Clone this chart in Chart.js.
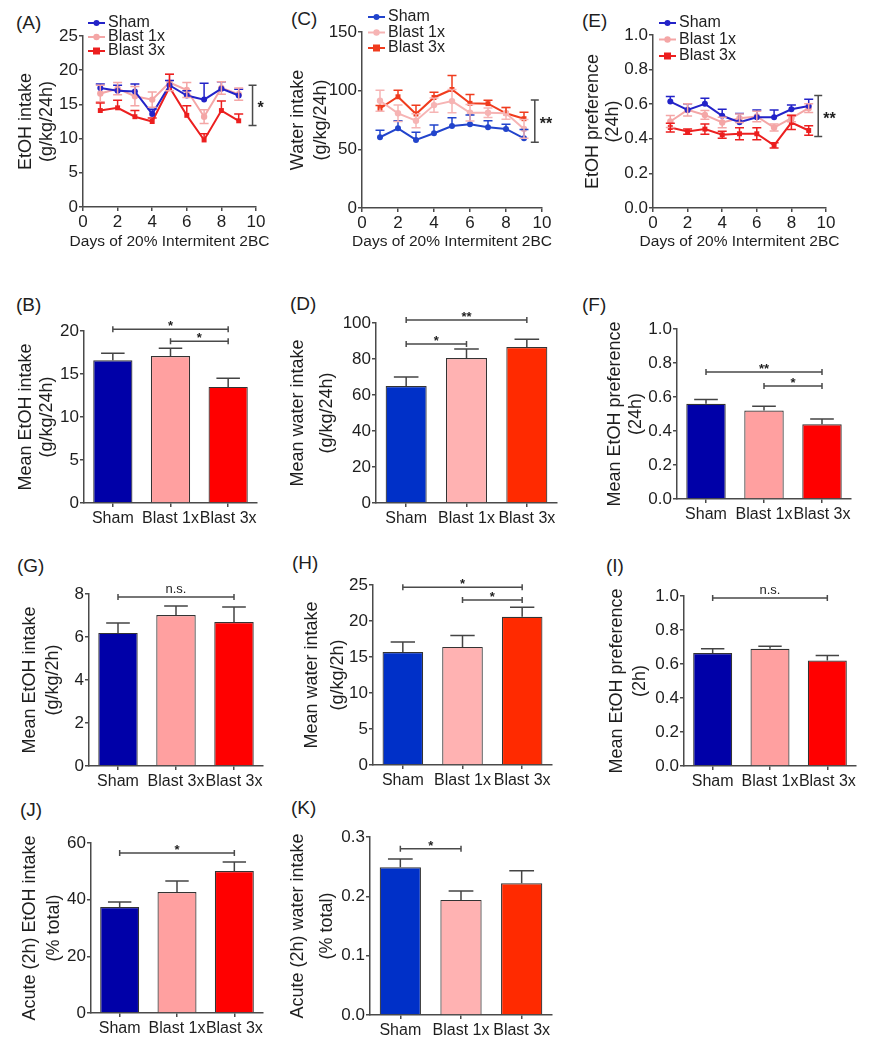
<!DOCTYPE html>
<html>
<head>
<meta charset="utf-8">
<script src="https://cdn.jsdelivr.net/npm/chart.js@4.4.1/dist/chart.umd.min.js"></script>
<style>
  body { margin: 0; background: #fff; }
  #fig { position: relative; width: 870px; height: 1050px; overflow: hidden; font-family: 'Liberation Sans', Arial, sans-serif; }
  #fig canvas { position: absolute; }
  .tag { position: absolute; font-size: 19px; line-height: 1; color: #1e1e1e; }
</style>
</head>
<body>
<div id="fig">
  <div class="tag" style="left:16px;top:13px">(A)</div>
  <div class="tag" style="left:291px;top:9px">(C)</div>
  <div class="tag" style="left:582px;top:11px">(E)</div>
  <div class="tag" style="left:16px;top:295px">(B)</div>
  <div class="tag" style="left:290px;top:294px">(D)</div>
  <div class="tag" style="left:582px;top:295px">(F)</div>
  <div class="tag" style="left:17px;top:556px">(G)</div>
  <div class="tag" style="left:292px;top:553px">(H)</div>
  <div class="tag" style="left:606px;top:556px">(I)</div>
  <div class="tag" style="left:20px;top:800px">(J)</div>
  <div class="tag" style="left:291px;top:798px">(K)</div>
</div>
<script>
const FONT = "'Liberation Sans', Arial, sans-serif";
const AXIS = '#4a4a4a';
const INK = '#1e1e1e';

// daily values, days 1-9 of intermittent 2BC (A, C, E)
const days = [1, 2, 3, 4, 5, 6, 7, 8, 9];
const groups = ['Sham', 'Blast 1x', 'Blast 3x'];

const etohSham = [17.4, 17.0, 16.9, 13.6, 17.8, 16.3, 15.7, 17.3, 16.3];
const etohShamErr = [0.6, 0.8, 1.1, 0.7, 0.7, 0.7, 2.4, 1.0, 0.9];
const etohB1 = [16.6, 17.3, 16.2, 15.7, 18.2, 17.1, 13.2, 17.4, 16.5];
const etohB1Err = [1.2, 0.9, 1.4, 1.1, 1.2, 1.1, 1.0, 0.9, 0.9];
const etohB3 = [14.1, 14.5, 13.2, 12.5, 17.5, 13.4, 9.8, 14.1, 12.6];
const etohB3Err = [1.1, 1.1, 0.9, 0.5, 1.9, 1.4, 0.9, 1.4, 1.0];

const waterSham = [60.3, 67.9, 58.0, 63.7, 69.9, 71.3, 68.8, 67.4, 59.4];
const waterShamErr = [6, 6.5, 6.5, 7, 7, 8, 5.5, 4, 7.5];
const waterB1 = [91.4, 80.7, 74.4, 87.7, 91.1, 81.2, 81.2, 80.7, 67.4];
const waterB1Err = [9, 7, 6, 6, 10, 7, 4, 5, 8];
const waterB3 = [84.9, 94.8, 80.1, 94.2, 101, 89.2, 88.9, 80.7, 76.1];
const waterB3Err = [2.5, 5.5, 7.5, 4.5, 12, 7.5, 3, 5, 5.5];

const prefSham = [0.615, 0.567, 0.602, 0.533, 0.496, 0.525, 0.525, 0.571, 0.59];
const prefShamErr = [0.03, 0.035, 0.033, 0.038, 0.05, 0.042, 0.042, 0.025, 0.039];
const prefB1 = [0.50, 0.567, 0.538, 0.494, 0.519, 0.529, 0.465, 0.519, 0.577];
const prefB1Err = [0.035, 0.035, 0.025, 0.03, 0.025, 0.03, 0.02, 0.02, 0.025];
const prefB3 = [0.465, 0.442, 0.456, 0.423, 0.429, 0.429, 0.362, 0.494, 0.448];
const prefB3Err = [0.025, 0.015, 0.03, 0.02, 0.035, 0.035, 0.015, 0.04, 0.028];

// group means and SEM (B, D, F, G, H, I, J, K)
const meanEtoh24 = [16.6, 17.1, 13.5], meanEtoh24Err = [0.8, 0.9, 1.0];
const meanWater24 = [65, 80.5, 86.7], meanWater24Err = [5, 5, 4.3];
const meanPref24 = [0.56, 0.52, 0.44], meanPref24Err = [0.025, 0.025, 0.03];
const meanEtoh2 = [6.19, 7.02, 6.7], meanEtoh2Err = [0.46, 0.42, 0.7];
const meanWater2 = [15.7, 16.4, 20.6], meanWater2Err = [1.4, 1.6, 1.3];
const meanPref2 = [0.665, 0.69, 0.62], meanPref2Err = [0.025, 0.015, 0.03];
const acuteEtoh = [37.4, 42.7, 50.1], acuteEtohErr = [1.8, 3.9, 3.2];
const acuteWater = [0.249, 0.194, 0.222], acuteWaterErr = [0.014, 0.015, 0.021];
const labelsG = ['Sham', 'Blast 3x', 'Blast 3x'];   // printed this way in panel G

const darkSet = ['#0000a8', '#ffa0a0', '#ff0000'];
const brightSet = ['#0030c8', '#ffb2b2', '#ff2a00'];

function marker(ctx, style, x, y, r) {
    ctx.beginPath();
    if (style === 'rect') ctx.rect(x - r, y - r, 2 * r, 2 * r);
    else ctx.arc(x, y, r, 0, Math.PI * 2);
    ctx.fill();
}

const decor = {
    id: 'decor',
    afterDatasetsDraw(chart, args, o) {
        if (!o.err) return;
        const ctx = chart.ctx, ys = chart.scales.y;
        ctx.save();
        chart.data.datasets.forEach((ds, di) => {
            const errs = o.err[di];
            if (!errs) return;
            const both = o.both && o.both[di];
            ctx.strokeStyle = o.errColor || ds.borderColor;
            ctx.lineWidth = 1.5;
            chart.getDatasetMeta(di).data.forEach((el, i) => {
                const d = ds.data[i];
                const v = typeof d === 'object' ? d.y : d;
                const cw = el.width ? el.width * 0.6 : 9;
                const hi = ys.getPixelForValue(v + errs[i]);
                const lo = ys.getPixelForValue(both ? v - errs[i] : v);
                ctx.beginPath();
                ctx.moveTo(el.x, lo); ctx.lineTo(el.x, hi);
                ctx.moveTo(el.x - cw / 2, hi); ctx.lineTo(el.x + cw / 2, hi);
                if (both) { ctx.moveTo(el.x - cw / 2, lo); ctx.lineTo(el.x + cw / 2, lo); }
                ctx.stroke();
            });
        });
        ctx.restore();
    },
    afterDraw(chart, args, o) {
        if (!o.yTitle) return;
        const ctx = chart.ctx, ca = chart.chartArea, xs = chart.scales.x, ys = chart.scales.y;
        ctx.save();
        ctx.fillStyle = INK;
        ctx.strokeStyle = AXIS;
        ctx.lineWidth = 1.5;
        ctx.textAlign = 'center';
        ctx.textBaseline = 'middle';
        ctx.font = `18px ${FONT}`;
        const cy = (ca.top + ca.bottom) / 2;
        o.yTitle.forEach((t, i) => {
            ctx.save();
            ctx.translate(o.yTitleX[i], cy);
            ctx.rotate(-Math.PI / 2);
            ctx.fillText(t, 0, 0);
            ctx.restore();
        });
        if (o.xTitle) {
            ctx.font = `15.5px ${FONT}`;
            ctx.fillText(o.xTitle, (ca.left + ca.right) / 2, o.xTitleY);
        }
        ctx.textBaseline = 'alphabetic';
        (o.sig || []).forEach(s => {
            const x1 = xs.getPixelForValue(s.from), x2 = xs.getPixelForValue(s.to);
            const y = ys.getPixelForValue(s.level);
            ctx.beginPath();
            ctx.moveTo(x1, y); ctx.lineTo(x2, y);
            ctx.moveTo(x1, y - 3); ctx.lineTo(x1, y + 3);
            ctx.moveTo(x2, y - 3); ctx.lineTo(x2, y + 3);
            ctx.stroke();
            const star = s.text.includes('*');
            ctx.font = star ? `bold 13px ${FONT}` : `13px ${FONT}`;
            ctx.fillText(s.text, (x1 + x2) / 2, star ? y + 1 : y - 4);
        });
        if (o.bracket) {
            const b = o.bracket;
            const x = xs.getPixelForValue(b.x);
            const y1 = ys.getPixelForValue(b.from), y2 = ys.getPixelForValue(b.to);
            ctx.beginPath();
            ctx.moveTo(x, y1); ctx.lineTo(x, y2);
            ctx.moveTo(x - 4, y1); ctx.lineTo(x + 4, y1);
            ctx.moveTo(x - 4, y2); ctx.lineTo(x + 4, y2);
            ctx.stroke();
            ctx.font = `bold 16px ${FONT}`;
            ctx.textAlign = 'left';
            ctx.fillText(b.text, x + 5, (y1 + y2) / 2 + 8);
        }
        if (o.legend) {
            const L = o.legend;
            chart.data.datasets.forEach((ds, i) => {
                const x = ca.left + L.x, y = ca.top + L.y + i * L.gap;
                ctx.strokeStyle = ds.borderColor;
                ctx.lineWidth = 2;
                ctx.beginPath(); ctx.moveTo(x, y); ctx.lineTo(x + 17, y); ctx.stroke();
                ctx.fillStyle = ds.borderColor;
                marker(ctx, ds.pointStyle, x + 8.5, y, ds.pointRadius);
                ctx.fillStyle = INK;
                ctx.font = `16px ${FONT}`;
                ctx.textAlign = 'left';
                ctx.textBaseline = 'middle';
                ctx.fillText(ds.label, x + 20, y);
            });
        }
        ctx.restore();
    }
};
Chart.register(decor);

const fig = document.getElementById('fig');

function place(box) {
    const c = document.createElement('canvas');
    c.width = box.r - box.l;
    c.height = box.b - box.t;
    c.style.left = box.l + 'px';
    c.style.top = box.t + 'px';
    fig.appendChild(c);
    return c;
}

function axis(fit, range, tickExtra, gridExtra) {
    return Object.assign({
        afterFit: fit,
        grid: Object.assign({ drawOnChartArea: false, tickLength: 4, color: AXIS, lineWidth: 1.5 }, gridExtra),
        border: { color: AXIS, width: 1.5 },
        ticks: Object.assign({ color: INK, font: { family: FONT, size: 17 }, padding: 1, maxRotation: 0, autoSkip: false }, tickExtra)
    }, range);
}

const oneDecimal = v => v.toFixed(1);

function lineChart(p) {
    const { box, plot } = p;
    const styles = [['circle', 3], ['circle', 3.2], ['rect', 3.5]];
    new Chart(place(box), {
        type: 'line',
        data: {
            datasets: p.series.map((s, i) => ({
                label: groups[i],
                data: days.map((d, k) => ({ x: d, y: s[k] })),
                borderColor: p.colors[i],
                backgroundColor: p.colors[i],
                borderWidth: 2,
                pointStyle: styles[i][0],
                pointRadius: styles[i][1],
                pointBorderWidth: 0,
                tension: 0
            }))
        },
        options: {
            responsive: false, animation: false, events: [],
            layout: { padding: { left: 0, bottom: 0, top: plot.t - box.t, right: box.r - plot.r } },
            scales: {
                x: axis(s => { s.height = box.b - plot.b; }, { type: 'linear', min: 0, max: 10 }, { stepSize: 2 }),
                y: axis(s => { s.width = plot.l - box.l; }, { min: 0, max: p.max }, Object.assign({ stepSize: p.step }, p.fmt ? { callback: p.fmt } : {}))
            },
            plugins: {
                legend: { display: false }, tooltip: { enabled: false },
                decor: {
                    err: p.errors, both: [false, true, p.redBoth],
                    yTitle: p.yTitle, yTitleX: p.yTitleX.map(v => v - box.l),
                    xTitle: 'Days of 20% Intermitent 2BC', xTitleY: 242 - box.t,
                    bracket: p.bracket, legend: p.legend
                }
            }
        }
    });
}

function barChart(p) {
    const { box, plot } = p;
    new Chart(place(box), {
        type: 'bar',
        data: {
            labels: p.labels || groups,
            datasets: [{
                data: p.values, backgroundColor: p.colors,
                borderColor: '#333', borderWidth: 1.2,
                barPercentage: 0.68, categoryPercentage: 1
            }]
        },
        options: {
            responsive: false, animation: false, events: [],
            layout: { padding: { left: 0, bottom: 0, top: plot.t - box.t, right: box.r - plot.r } },
            scales: {
                x: axis(s => { s.height = box.b - plot.b; }, { type: 'category' }, { font: { family: FONT, size: 16 }, padding: 2 }, { offset: false }),
                y: axis(s => { s.width = plot.l - box.l; }, { min: 0, max: p.max }, Object.assign({ stepSize: p.step }, p.fmt ? { callback: p.fmt } : {}))
            },
            plugins: {
                legend: { display: false }, tooltip: { enabled: false },
                decor: {
                    err: [p.errors], errColor: '#444',
                    yTitle: p.yTitle, yTitleX: p.yTitleX.map(v => v - box.l),
                    sig: p.sig
                }
            }
        }
    });
}

// (A)
lineChart({
    box: { l: 10, t: 0, r: 285, b: 255 }, plot: { l: 83, t: 36, r: 256, b: 207 },
    series: [etohSham, etohB1, etohB3], errors: [etohShamErr, etohB1Err, etohB3Err], redBoth: false,
    colors: ['#2323c8', '#f4a6a6', '#ec1f1f'], max: 25, step: 5,
    yTitle: ['EtOH intake', '(g/kg/24h)'], yTitleX: [26, 47],
    bracket: { x: 9.8, from: 11.9, to: 17.8, text: '*' },
    legend: { x: 5, y: -13, gap: 14 }
});
// (C)
lineChart({
    box: { l: 285, t: 0, r: 578, b: 255 }, plot: { l: 362, t: 32, r: 542, b: 208 },
    series: [waterSham, waterB1, waterB3], errors: [waterShamErr, waterB1Err, waterB3Err], redBoth: false,
    colors: ['#2244cc', '#f6b4b4', '#f03c1e'], max: 150, step: 50,
    yTitle: ['Water intake', '(g/kg/24h)'], yTitleX: [298, 321],
    bracket: { x: 9.6, from: 56, to: 92, text: '**' },
    legend: { x: 6, y: -15, gap: 15.5 }
});
// (E)
lineChart({
    box: { l: 578, t: 0, r: 870, b: 255 }, plot: { l: 653, t: 35, r: 826, b: 208 },
    series: [prefSham, prefB1, prefB3], errors: [prefShamErr, prefB1Err, prefB3Err], redBoth: true,
    colors: ['#2323c8', '#f4a6a6', '#ec1f1f'], max: 1, step: 0.2, fmt: oneDecimal,
    yTitle: ['EtOH preference', '(24h)'], yTitleX: [593, 613],
    bracket: { x: 9.55, from: 0.413, to: 0.65, text: '**' },
    legend: { x: 6, y: -12, gap: 16.5 }
});

// (B)
barChart({
    box: { l: 10, t: 300, r: 282, b: 535 }, plot: { l: 84, t: 331, r: 257, b: 503 },
    values: meanEtoh24, errors: meanEtoh24Err, colors: darkSet, max: 20, step: 5,
    yTitle: ['Mean EtOH intake', '(g/kg/24h)'], yTitleX: [26, 47],
    sig: [{ from: 0, to: 2, level: 20.2, text: '*' }, { from: 1, to: 2, level: 18.8, text: '*' }]
});
// (D)
barChart({
    box: { l: 282, t: 300, r: 575, b: 535 }, plot: { l: 376, t: 323, r: 557, b: 503 },
    values: meanWater24, errors: meanWater24Err, colors: brightSet, max: 100, step: 20,
    yTitle: ['Mean water intake', '(g/kg/24h)'], yTitleX: [298, 327],
    sig: [{ from: 0, to: 2, level: 101.7, text: '**' }, { from: 0, to: 1, level: 88.3, text: '*' }]
});
// (F)
barChart({
    box: { l: 575, t: 300, r: 870, b: 535 }, plot: { l: 677, t: 329, r: 851, b: 499 },
    values: meanPref24, errors: meanPref24Err, colors: darkSet, max: 1, step: 0.2, fmt: oneDecimal,
    yTitle: ['Mean EtOH preference', '(24h)'], yTitleX: [615, 636],
    sig: [{ from: 0, to: 2, level: 0.747, text: '**' }, { from: 1, to: 2, level: 0.665, text: '*' }]
});
// (G)
barChart({
    box: { l: 10, t: 570, r: 282, b: 800 }, plot: { l: 89, t: 594, r: 263, b: 766 },
    labels: labelsG, values: meanEtoh2, errors: meanEtoh2Err, colors: darkSet, max: 8, step: 2,
    yTitle: ['Mean EtOH intake', '(g/kg/2h)'], yTitleX: [30, 53],
    sig: [{ from: 0, to: 2, level: 7.86, text: 'n.s.' }]
});
// (H)
barChart({
    box: { l: 282, t: 560, r: 575, b: 800 }, plot: { l: 373, t: 585, r: 552, b: 765 },
    values: meanWater2, errors: meanWater2Err, colors: brightSet, max: 25, step: 5,
    yTitle: ['Mean water intake', '(g/kg/2h)'], yTitleX: [312, 338],
    sig: [{ from: 0, to: 2, level: 24.7, text: '*' }, { from: 1, to: 2, level: 22.9, text: '*' }]
});
// (I)
barChart({
    box: { l: 575, t: 570, r: 870, b: 800 }, plot: { l: 684, t: 596, r: 856, b: 766 },
    values: meanPref2, errors: meanPref2Err, colors: darkSet, max: 1, step: 0.2, fmt: oneDecimal,
    yTitle: ['Mean EtOH preference', '(2h)'], yTitleX: [617, 640],
    sig: [{ from: 0, to: 2, level: 0.988, text: 'n.s.' }]
});
// (J)
barChart({
    box: { l: 10, t: 820, r: 282, b: 1050 }, plot: { l: 91, t: 843, r: 263, b: 1013 },
    values: acuteEtoh, errors: acuteEtohErr, colors: darkSet, max: 60, step: 20,
    yTitle: ['Acute (2h) EtOH intake', '(% total)'], yTitleX: [30, 54],
    sig: [{ from: 0, to: 2, level: 56.5, text: '*' }]
});
// (K)
barChart({
    box: { l: 282, t: 815, r: 575, b: 1050 }, plot: { l: 370, t: 837, r: 552, b: 1015 },
    values: acuteWater, errors: acuteWaterErr, colors: brightSet, max: 0.3, step: 0.1, fmt: oneDecimal,
    yTitle: ['Acute (2h) water intake', '(% total)'], yTitleX: [298, 327],
    sig: [{ from: 0, to: 1, level: 0.28, text: '*' }]
});
</script>
</body>
</html>
